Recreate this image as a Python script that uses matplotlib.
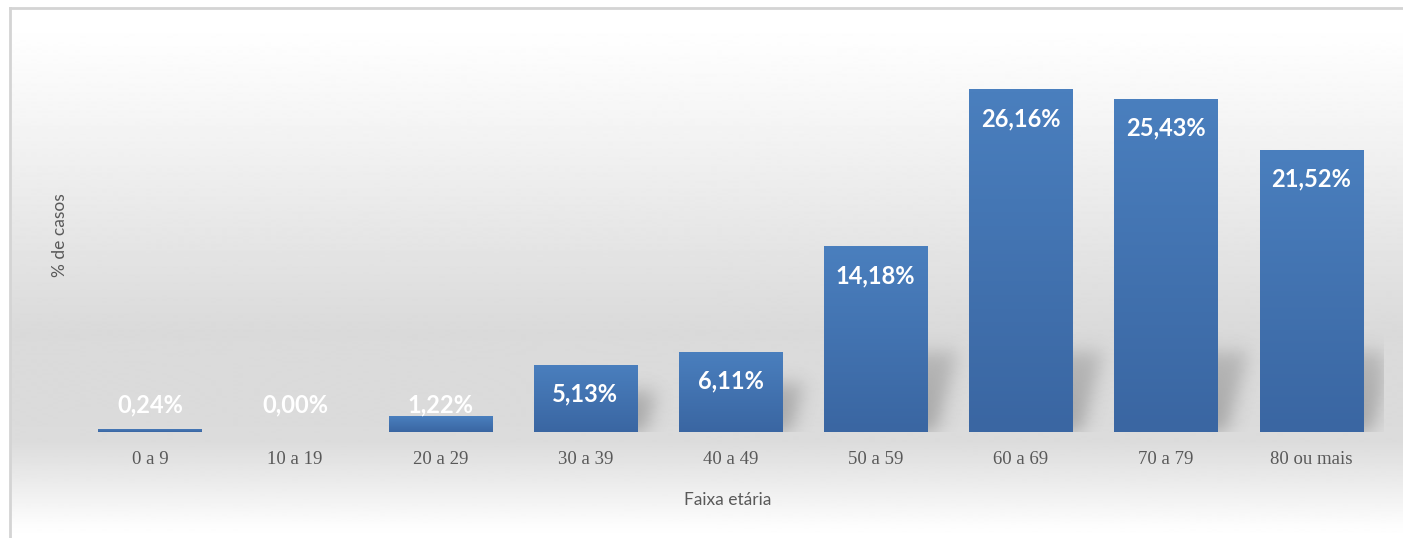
import numpy as np
import matplotlib
matplotlib.use("Agg")
import matplotlib.pyplot as plt
from matplotlib.colors import LinearSegmentedColormap

categories = ["0 a 9", "10 a 19", "20 a 29", "30 a 39", "40 a 49", "50 a 59", "60 a 69", "70 a 79", "80 ou mais"]
values = [0.24, 0.00, 1.22, 5.13, 6.11, 14.18, 26.16, 25.43, 21.52]
labels = ["0,24%", "0,00%", "1,22%", "5,13%", "6,11%", "14,18%", "26,16%", "25,43%", "21,52%"]
xlabel = "Faixa etária"
ylabel = "% de casos"

W, H = 1403, 538
fig = plt.figure(figsize=(W / 100, H / 100), dpi=100)
fig.patch.set_facecolor("white")

# background gradient panel (pixel coordinates, y measured from top)
bg = fig.add_axes([10 / W, 0, 1 - 10 / W, (H - 8) / H])
py = np.arange(8, H + 1)
g = np.interp(py, [8, 40, 110, 330, 440, 480, 525, 538],
              [1.0, 0.995, 0.965, 0.855, 0.86, 0.92, 0.99, 1.0])
bg.imshow(g[:, None], cmap="gray", vmin=0, vmax=1, extent=[0, 1, H, 8],
          aspect="auto", interpolation="bilinear")
bg.set_xlim(0, 1); bg.set_ylim(H, 8)
bg.set_xticks([]); bg.set_yticks([])
for s in ["right", "bottom"]:
    bg.spines[s].set_visible(False)
for s in ["left", "top"]:
    bg.spines[s].set_color("#d4d4d4")
    bg.spines[s].set_linewidth(2)

AXL, AXW, BASE, PXU = 77.4, 1306.2, 432, 13.11
ax = fig.add_axes([AXL / W, (H - BASE) / H, AXW / W, 392 / H])
ax.patch.set_alpha(0)
n = len(categories)
x = np.arange(n)
xmin, xmax = -0.5, n - 0.5
ymax = 392 / PXU
bw = 0.71

# soft shadows behind bars (raster in pixel space)
NY = 160
sx = np.arange(int(AXW))
sy = np.arange(NY)
XX, YY = np.meshgrid(sx, sy)
mask = np.zeros_like(XX, dtype=float)
unit = AXW / (xmax - xmin)
for xi, v in zip(x, values):
    hp = v * PXU
    if hp < 30:
        continue
    hs = min(0.6 * hp, 80)
    left = (xi - xmin - bw / 2 + bw * 0.35) * unit
    right = (xi - xmin + bw / 2) * unit
    off = 8 + 0.28 * YY
    inside = (YY <= hs) & (XX >= left + off) & (XX <= right + off)
    fade = np.clip(1.0 - 0.35 * YY / 80.0, 0, 1)
    mask = np.maximum(mask, inside * fade)
sig = 9
k = np.exp(-0.5 * (np.arange(-3 * sig, 3 * sig + 1) / sig) ** 2)
k /= k.sum()
mask = np.apply_along_axis(lambda r: np.convolve(r, k, mode="same"), 1, mask)
mask = np.apply_along_axis(lambda c: np.convolve(c, k, mode="same"), 0, mask)
rgba = np.zeros(mask.shape + (4,))
rgba[..., 0:3] = 0.35
rgba[..., 3] = mask * 0.42
ax.imshow(rgba, extent=[xmin, xmax, 0, NY / PXU], origin="lower",
          aspect="auto", zorder=2, interpolation="bilinear")

bar_cmap = LinearSegmentedColormap.from_list("b", ["#3a66a2", "#4a7fbe"])
bars = ax.bar(x, values, width=bw, color="#4575b3", zorder=3)
for b in bars:
    h = b.get_height()
    if h <= 0:
        continue
    xx = b.get_x(); ww = b.get_width()
    im = ax.imshow(np.linspace(0, 1, 100)[:, None], cmap=bar_cmap, origin="lower",
                   extent=[xx, xx + ww, 0, h], aspect="auto", zorder=3.5)
    im.set_clip_path(b)

ax.set_xlim(xmin, xmax)
ax.set_ylim(0, ymax)

for xi, v, lab in zip(x, values, labels):
    y = max(v - 2.25, 2.06)
    ax.text(xi, y, lab, ha="center", va="center", color="white", fontsize=17,
            fontweight="bold", family="Lato", zorder=5)

ax.set_xticks(x)
ax.set_xticklabels(categories, family="Liberation Serif", fontsize=13.5, color="#595959")
ax.tick_params(axis="x", length=0, pad=14)
ax.set_yticks([])
for s in ax.spines.values():
    s.set_visible(False)

fig.text(728 / W, 1 - 500 / H, xlabel, ha="center", va="center", fontsize=12.5,
         color="#595959", family="Lato")
fig.text(60 / W, 1 - 235 / H, ylabel, ha="center", va="center", fontsize=12.5,
         color="#595959", family="Lato", rotation=90)

fig.savefig("out.png", dpi=100)
